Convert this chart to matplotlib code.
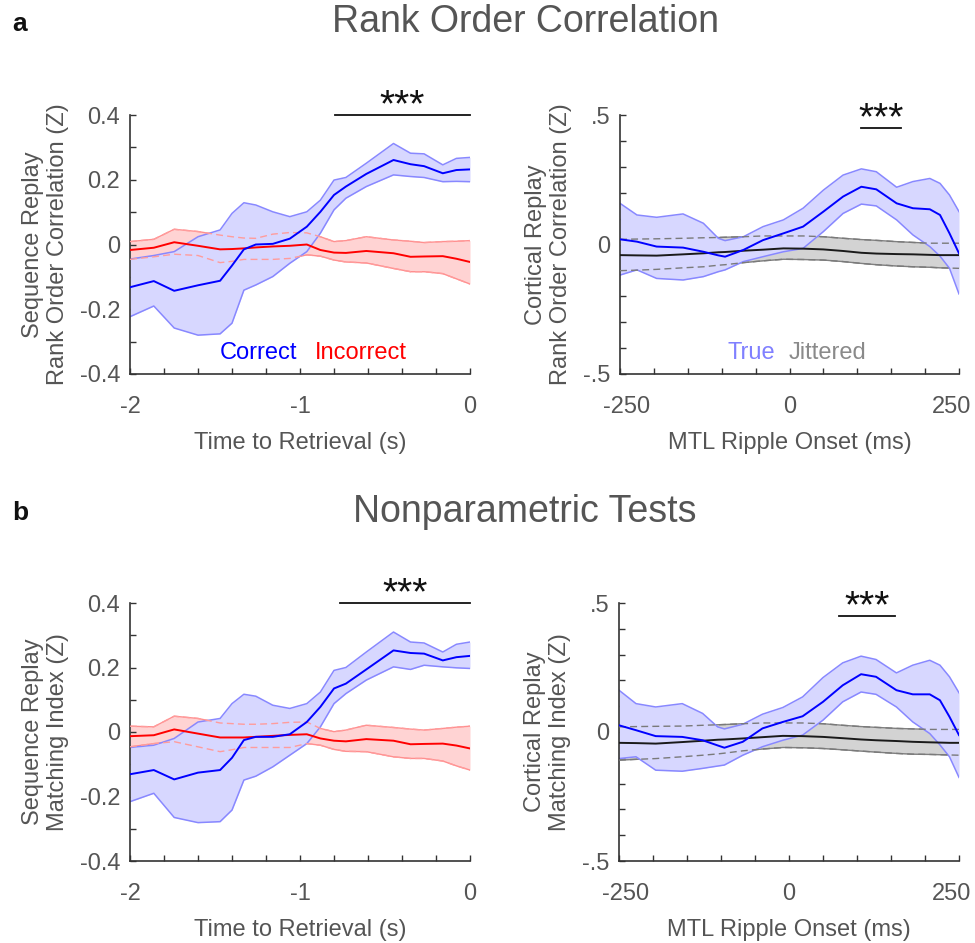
import numpy as np
import matplotlib
matplotlib.use("Agg")
import matplotlib.pyplot as plt
from matplotlib.transforms import ScaledTranslation

plt.rcParams["font.family"] = ["Liberation Sans", "DejaVu Sans"]
plt.rcParams["axes.unicode_minus"] = False
plt.rcParams["lines.solid_joinstyle"] = "round"
plt.rcParams["lines.dash_joinstyle"] = "round"

# time axis for the retrieval panels (s) and ripple-locked panels (ms)
T_RET = [-2, -1.86, -1.74, -1.6, -1.47, -1.4, -1.33, -1.26, -1.16, -1.06, -0.96,
         -0.88, -0.8, -0.73, -0.61, -0.45, -0.35, -0.27, -0.16, -0.08, 0]
T_RIP = [-250, -225, -196, -157, -127, -105, -95, -68, -39, -9, 20,
         50, 79, 106, 128, 158, 182, 207, 222, 236, 250]

# a, left: rank order correlation, correct vs incorrect
RO_CORRECT = [-0.132, -0.113, -0.143, -0.126, -0.112, -0.065, -0.015, 0.0, 0.002, 0.018, 0.055,
              0.101, 0.153, 0.179, 0.218, 0.261, 0.248, 0.242, 0.220, 0.230, 0.232]
RO_CORRECT_HI = [-0.045, -0.034, -0.022, 0.024, 0.045, 0.096, 0.129, 0.122, 0.101, 0.086, 0.101,
                 0.137, 0.199, 0.207, 0.251, 0.312, 0.282, 0.280, 0.246, 0.266, 0.269]
RO_CORRECT_LO = [-0.223, -0.190, -0.258, -0.280, -0.276, -0.243, -0.141, -0.125, -0.099, -0.058, -0.022,
                 0.035, 0.107, 0.143, 0.179, 0.215, 0.210, 0.207, 0.194, 0.195, 0.194]
RO_INCORRECT = [-0.017, -0.010, 0.007, -0.004, -0.015, -0.014, -0.012, -0.009, -0.006, -0.004, 0.0,
                -0.017, -0.025, -0.026, -0.020, -0.027, -0.038, -0.037, -0.036, -0.044, -0.054]
RO_INCORRECT_HI = [0.009, 0.016, 0.047, 0.040, 0.029, 0.024, 0.020, 0.019, 0.032, 0.037, 0.036,
                   0.024, 0.009, 0.012, 0.024, 0.014, 0.010, 0.006, 0.009, 0.010, 0.012]
RO_INCORRECT_LO = [-0.046, -0.038, -0.030, -0.034, -0.056, -0.052, -0.046, -0.046, -0.046, -0.043, -0.032,
                   -0.036, -0.048, -0.054, -0.057, -0.074, -0.084, -0.084, -0.090, -0.106, -0.122]

# b, left: matching index, correct vs incorrect
MI_CORRECT = [-0.131, -0.118, -0.147, -0.126, -0.118, -0.080, -0.025, -0.015, -0.015, -0.007, 0.031,
              0.078, 0.135, 0.150, 0.194, 0.253, 0.245, 0.243, 0.222, 0.232, 0.236]
MI_CORRECT_HI = [-0.048, -0.041, -0.020, 0.031, 0.042, 0.088, 0.117, 0.111, 0.083, 0.073, 0.088,
                 0.124, 0.191, 0.200, 0.248, 0.310, 0.279, 0.276, 0.248, 0.272, 0.279]
MI_CORRECT_LO = [-0.216, -0.190, -0.265, -0.281, -0.278, -0.242, -0.149, -0.137, -0.108, -0.072, -0.036,
                 0.016, 0.088, 0.119, 0.161, 0.202, 0.194, 0.207, 0.202, 0.199, 0.197]
MI_INCORRECT = [-0.013, -0.010, 0.008, -0.005, -0.017, -0.017, -0.017, -0.015, -0.012, -0.009, -0.007,
                -0.020, -0.027, -0.029, -0.022, -0.027, -0.038, -0.037, -0.036, -0.042, -0.051]
MI_INCORRECT_HI = [0.018, 0.016, 0.049, 0.042, 0.028, 0.026, 0.024, 0.024, 0.026, 0.030, 0.031,
                   0.011, 0.001, 0.006, 0.021, 0.014, 0.009, 0.006, 0.011, 0.015, 0.018]
MI_INCORRECT_LO = [-0.046, -0.036, -0.030, -0.046, -0.061, -0.055, -0.048, -0.048, -0.048, -0.048, -0.036,
                   -0.041, -0.054, -0.060, -0.061, -0.077, -0.082, -0.082, -0.090, -0.105, -0.118]

# a, right: cortical rank order correlation, true vs jittered ripples
RO_TRUE = [0.020, 0.011, -0.008, -0.012, -0.028, -0.042, -0.047, -0.021, 0.017, 0.043, 0.069,
           0.127, 0.185, 0.223, 0.213, 0.159, 0.140, 0.136, 0.114, 0.043, -0.034]
RO_TRUE_HI = [0.159, 0.114, 0.105, 0.118, 0.082, 0.024, 0.015, 0.030, 0.069, 0.095, 0.140,
              0.210, 0.268, 0.292, 0.281, 0.221, 0.243, 0.255, 0.236, 0.191, 0.127]
RO_TRUE_LO = [-0.118, -0.098, -0.131, -0.137, -0.124, -0.105, -0.098, -0.066, -0.047, -0.028, -0.015,
              0.050, 0.120, 0.156, 0.149, 0.095, 0.037, -0.008, -0.045, -0.092, -0.191]
RO_JIT = [-0.041, -0.042, -0.043, -0.038, -0.034, -0.030, -0.029, -0.024, -0.020, -0.015, -0.016,
          -0.019, -0.025, -0.032, -0.035, -0.037, -0.038, -0.040, -0.041, -0.041, -0.041]
RO_JIT_HI = [0.020, 0.021, 0.022, 0.024, 0.026, 0.027, 0.028, 0.030, 0.033, 0.033, 0.033,
             0.030, 0.024, 0.019, 0.016, 0.011, 0.008, 0.005, 0.005, 0.005, 0.005]
RO_JIT_LO = [-0.101, -0.099, -0.096, -0.090, -0.086, -0.080, -0.078, -0.070, -0.063, -0.057, -0.058,
             -0.060, -0.066, -0.073, -0.078, -0.083, -0.086, -0.088, -0.090, -0.091, -0.092]

# b, right: cortical matching index, true vs jittered ripples
MI_TRUE = [0.026, 0.007, -0.016, -0.019, -0.032, -0.052, -0.061, -0.038, 0.014, 0.039, 0.061,
           0.117, 0.181, 0.224, 0.214, 0.162, 0.146, 0.146, 0.123, 0.059, -0.012]
MI_TRUE_HI = [0.162, 0.110, 0.097, 0.110, 0.072, 0.020, 0.012, 0.030, 0.069, 0.095, 0.136,
              0.211, 0.268, 0.294, 0.281, 0.229, 0.259, 0.278, 0.259, 0.214, 0.152]
MI_TRUE_LO = [-0.103, -0.096, -0.148, -0.152, -0.141, -0.132, -0.128, -0.090, -0.057, -0.032, -0.012,
              0.046, 0.117, 0.155, 0.146, 0.097, 0.039, -0.006, -0.050, -0.096, -0.176]
MI_JIT = [-0.042, -0.043, -0.045, -0.039, -0.034, -0.030, -0.029, -0.025, -0.020, -0.015, -0.016,
          -0.019, -0.024, -0.029, -0.032, -0.035, -0.038, -0.040, -0.041, -0.042, -0.042]
MI_JIT_HI = [0.020, 0.021, 0.022, 0.023, 0.026, 0.028, 0.029, 0.032, 0.035, 0.035, 0.035,
             0.032, 0.026, 0.021, 0.018, 0.014, 0.012, 0.010, 0.010, 0.010, 0.010]
MI_JIT_LO = [-0.109, -0.106, -0.103, -0.096, -0.090, -0.085, -0.082, -0.073, -0.066, -0.060, -0.061,
             -0.064, -0.069, -0.074, -0.078, -0.083, -0.086, -0.087, -0.088, -0.089, -0.090]

# significant clusters (start, end)
SIG_RO_RET = (-0.794, 0.0)
SIG_MI_RET = (-0.765, 0.0)
SIG_RO_RIP = (106, 164)
SIG_MI_RIP = (73, 156)

BLUE, BLUE_FILL, BLUE_EDGE = "#0000ff", "#d7d7ff", "#8888ff"
RED, RED_FILL, RED_EDGE = "#ff0000", "#ffd3d3", "#ff8f8f"
GREY, GREY_FILL, GREY_EDGE = "#1a1a1a", "#d3d3d3", "#808080"
TEXT = "#555555"
AXIS = "#333333"
FS = 17


def draw_pair(ax, x, main, main_hi, main_lo, ref, ref_hi, ref_lo, ref_colors, ref_dash):
    ref_line, ref_fill, ref_edge = ref_colors
    # reference band sits underneath; its edges are redrawn dashed over the main band
    ax.fill_between(x, ref_lo, ref_hi, color=ref_fill, lw=0, zorder=1)
    ax.plot(x, ref_hi, color=ref_edge, lw=1, zorder=1.1)
    ax.plot(x, ref_lo, color=ref_edge, lw=1, zorder=1.1)
    ax.fill_between(x, main_lo, main_hi, color=BLUE_FILL, lw=0, zorder=2)
    ax.plot(x, main_hi, color=BLUE_EDGE, lw=1.1, zorder=2.1)
    ax.plot(x, main_lo, color=BLUE_EDGE, lw=1.1, zorder=2.1)
    ax.plot(x, ref_hi, color=ref_dash, lw=1, ls=(0, (5, 3)), zorder=3)
    ax.plot(x, ref_lo, color=ref_dash, lw=1, ls=(0, (5, 3)), zorder=3)
    ax.plot(x, ref, color=ref_line, lw=1.4, zorder=4)
    ax.plot(x, main, color=BLUE, lw=1.4, zorder=5)


def style_axes(ax, xlim, xmajor, xminor, ylim, ymajor, yminor, ylabels, xlabel, ylabel):
    ax.set_xlim(*xlim)
    ax.set_ylim(*ylim)
    ax.set_xticks(xmajor)
    ax.set_xticks(xminor, minor=True)
    ax.set_yticks(ymajor)
    ax.set_yticklabels(ylabels)
    ax.set_yticks(yminor, minor=True)
    for side in ("top", "right"):
        ax.spines[side].set_visible(False)
    for side in ("left", "bottom"):
        ax.spines[side].set_color(AXIS)
        ax.spines[side].set_linewidth(1.2)
    ax.tick_params(which="both", direction="in", length=4.5, width=1, color=AXIS,
                   labelcolor=TEXT, labelsize=FS)
    ax.tick_params(axis="x", which="both", pad=16)
    ax.tick_params(axis="y", which="both", pad=7)
    ax.set_xlabel(xlabel, fontsize=FS, color=TEXT, labelpad=10)
    ax.set_ylabel(ylabel, fontsize=FS, color=TEXT, linespacing=1.15, labelpad=8)


def nudge_end_labels(ax, shift_px):
    # pull the outer tick labels inwards so they stay inside the figure
    labels = ax.get_xticklabels()
    for lab, dx in ((labels[0], shift_px), (labels[-1], -shift_px)):
        lab.set_transform(lab.get_transform() + ScaledTranslation(dx / 100, 0, fig.dpi_scale_trans))


def sig_bar(ax, span, y):
    ax.plot(span, [y, y], color="#111111", lw=1.3, clip_on=False, zorder=6)
    ax.annotate("***", xy=(sum(span) / 2, y), xytext=(0, -1), textcoords="offset points",
                ha="center", va="baseline", fontsize=28, color="#111111", annotation_clip=False)


fig = plt.figure(figsize=(9.75, 9.43), dpi=100)
W, H = 975, 943


def add_axes(x0, x1, y0, y1):
    return fig.add_axes([x0 / W, 1 - y1 / H, (x1 - x0) / W, (y1 - y0) / H])


ax_a1 = add_axes(130, 470, 115, 374)
ax_a2 = add_axes(620, 959, 115, 374)
ax_b1 = add_axes(130, 470, 603, 861)
ax_b2 = add_axes(619, 959, 603, 861)

ret_kw = dict(xlim=(-2, 0), xmajor=[-2, -1, 0],
              xminor=[-1.8, -1.6, -1.4, -1.2, -0.8, -0.6, -0.4, -0.2],
              ylim=(-0.4, 0.4), ymajor=[-0.4, -0.2, 0, 0.2, 0.4],
              yminor=[-0.3, -0.1, 0.1, 0.3],
              ylabels=["-0.4", "-0.2", "0", "0.2", "0.4"],
              xlabel="Time to Retrieval (s)")
rip_kw = dict(xlim=(-250, 250), xmajor=[-250, 0, 250],
              xminor=[-200, -150, -100, -50, 50, 100, 150, 200],
              ylim=(-0.5, 0.5), ymajor=[-0.5, 0, 0.5],
              yminor=[-0.4, -0.3, -0.2, -0.1, 0.1, 0.2, 0.3, 0.4],
              ylabels=["-.5", "0", ".5"],
              xlabel="MTL Ripple Onset (ms)")

red_set = (RED, RED_FILL, RED_EDGE)
grey_set = (GREY, GREY_FILL, GREY_EDGE)

draw_pair(ax_a1, T_RET, RO_CORRECT, RO_CORRECT_HI, RO_CORRECT_LO,
          RO_INCORRECT, RO_INCORRECT_HI, RO_INCORRECT_LO, red_set, "#ff9c9c")
style_axes(ax_a1, ylabel="Sequence Replay\nRank Order Correlation (Z)", **ret_kw)
sig_bar(ax_a1, SIG_RO_RET, 0.4)
ax_a1.text(-1.47, -0.335, "Correct", color=BLUE, fontsize=FS, va="center")
ax_a1.text(-0.91, -0.335, "Incorrect", color=RED, fontsize=FS, va="center")

draw_pair(ax_a2, T_RIP, RO_TRUE, RO_TRUE_HI, RO_TRUE_LO,
          RO_JIT, RO_JIT_HI, RO_JIT_LO, grey_set, "#7a7a7a")
style_axes(ax_a2, ylabel="Cortical Replay\nRank Order Correlation (Z)", **rip_kw)
sig_bar(ax_a2, SIG_RO_RIP, 0.449)
ax_a2.text(-91, -0.419, "True", color="#8080ff", fontsize=FS, va="center")
ax_a2.text(-2, -0.419, "Jittered", color="#8a8a8a", fontsize=FS, va="center")
nudge_end_labels(ax_a2, 7)

draw_pair(ax_b1, T_RET, MI_CORRECT, MI_CORRECT_HI, MI_CORRECT_LO,
          MI_INCORRECT, MI_INCORRECT_HI, MI_INCORRECT_LO, red_set, "#ff9c9c")
style_axes(ax_b1, ylabel="Sequence Replay\nMatching Index (Z)", **ret_kw)
sig_bar(ax_b1, SIG_MI_RET, 0.4)

draw_pair(ax_b2, T_RIP, MI_TRUE, MI_TRUE_HI, MI_TRUE_LO,
          MI_JIT, MI_JIT_HI, MI_JIT_LO, grey_set, "#7a7a7a")
style_axes(ax_b2, ylabel="Cortical Replay\nMatching Index (Z)", **rip_kw)
sig_bar(ax_b2, SIG_MI_RIP, 0.448)
nudge_end_labels(ax_b2, 7)

fig.text(12 / W, 1 - 24 / H, "a", fontsize=19, fontweight="bold", color="#111111", va="center")
fig.text(525 / W, 1 - 22 / H, "Rank Order Correlation", fontsize=27, color=TEXT,
         ha="center", va="center")
fig.text(12 / W, 1 - 513 / H, "b", fontsize=19, fontweight="bold", color="#111111", va="center")
fig.text(525 / W, 1 - 512 / H, "Nonparametric Tests", fontsize=27, color=TEXT,
         ha="center", va="center")

fig.savefig("out.png", dpi=100)
